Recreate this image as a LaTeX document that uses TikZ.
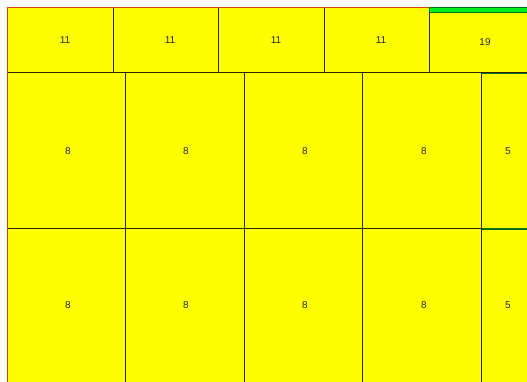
\documentclass[tikz,border=0pt]{standalone}
\usepackage{fontspec}
\setmainfont{Liberation Sans}
\definecolor{cellyellow}{RGB}{255,255,0}
\definecolor{celledge}{RGB}{40,40,0}
\definecolor{edgered}{RGB}{210,70,10}
\definecolor{brightgreen}{RGB}{0,240,30}
\definecolor{darkgreen}{RGB}{0,110,20}
\definecolor{lbltext}{RGB}{40,40,0}
\begin{document}
\begin{tikzpicture}[x=1pt,y=-1pt,
  cell/.style={fill=cellyellow,draw=celledge,line width=0.8pt},
  lbl/.style={font=\fontsize{10}{12}\selectfont,text=lbltext,inner sep=0pt},
  redline/.style={draw=edgered,line width=0.9pt},
  greenbar/.style={fill=brightgreen,draw=darkgreen,line width=0.6pt}]
\fill[white] (0,0) rectangle (527,381);
\useasboundingbox (0,0) rectangle (527,381);
% top row
\filldraw[cell] (7,7) rectangle (113,72);
\filldraw[cell] (113,7) rectangle (218,72);
\filldraw[cell] (218,7) rectangle (324,72);
\filldraw[cell] (324,7) rectangle (429.5,72);
\filldraw[cell] (429.5,7) rectangle (530,72);
% middle row
\filldraw[cell] (7,72) rectangle (125,228);
\filldraw[cell] (125,72) rectangle (244,228);
\filldraw[cell] (244,72) rectangle (362,228);
\filldraw[cell] (362,72) rectangle (481,228);
\filldraw[cell] (481,72) rectangle (530,228);
% bottom row
\filldraw[cell] (7,228) rectangle (125,384);
\filldraw[cell] (125,228) rectangle (244,384);
\filldraw[cell] (244,228) rectangle (362,384);
\filldraw[cell] (362,228) rectangle (481,384);
\filldraw[cell] (481,228) rectangle (530,384);
% accents
\filldraw[greenbar] (429.5,7) rectangle (530,12);
\draw[draw=darkgreen,line width=1.6pt] (481.5,73.5) -- (530,73.5);
\draw[draw=darkgreen,line width=1.6pt] (481.5,229) -- (530,229);
\draw[redline] (7,7) -- (429.5,7);
\draw[redline] (7,7) -- (7,384);
% labels
\node[lbl] (t1) at (65,40) {11};
\node[lbl] (t2) at (170,40) {11};
\node[lbl] (t3) at (276,40) {11};
\node[lbl] (t4) at (381,40) {11};
\node[lbl] (t5) at (485,42) {19};
\node[lbl] (m1) at (68,151) {8};
\node[lbl] (m2) at (186,151) {8};
\node[lbl] (m3) at (305,151) {8};
\node[lbl] (m4) at (424,151) {8};
\node[lbl] (m5) at (508,151) {5};
\node[lbl] (b1) at (68,305) {8};
\node[lbl] (b2) at (186,305) {8};
\node[lbl] (b3) at (305,305) {8};
\node[lbl] (b4) at (424,305) {8};
\node[lbl] (b5) at (508,305) {5};
\end{tikzpicture}
\end{document}
